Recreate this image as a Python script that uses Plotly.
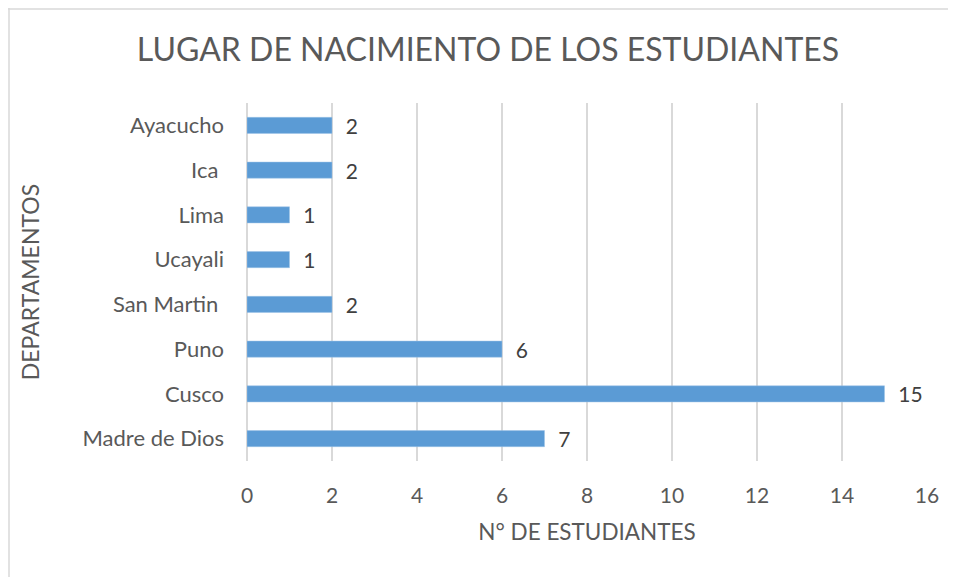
import plotly.graph_objects as go

categories = ["Madre de Dios", "Cusco", "Puno", "San Martin ", "Ucayali", "Lima", "Ica ", "Ayacucho"]
values = [7, 15, 6, 2, 1, 1, 2, 2]
x_ticks = [0, 2, 4, 6, 8, 10, 12, 14, 16]

FONT = "Lato"
TXT = "#595959"

fig = go.Figure(go.Bar(
    y=categories, x=values, orientation="h",
    marker=dict(color="#5b9bd5", line=dict(color="#9dc3e6", width=0.5)),
    width=0.36,
    text=["  " + str(v) for v in values], textposition="outside",
    textfont=dict(family=FONT, size=21, color="#404040"),
    constraintext="none",
    cliponaxis=False,
))

W, H = 956, 577
OFF = 8  # page body margin offset
ml, mr, mt, mb = 247 - OFF, 956 - 927 + OFF, 103 - OFF, 577 - 461 + OFF
pw, ph = W - ml - mr, H - mt - mb

def px_x(p):
    return (p - ml) / pw

def px_y(p):
    return (H - mb - p) / ph

fig.update_layout(
    width=W, height=H,
    margin=dict(l=ml, r=mr, t=mt, b=mb, autoexpand=False),
    paper_bgcolor="white", plot_bgcolor="white",
    showlegend=False,
    font=dict(family=FONT, color=TXT),
    title=dict(text="LUGAR DE NACIMIENTO DE LOS ESTUDIANTES",
               font=dict(family=FONT, size=32, color=TXT),
               x=(488 - OFF) / W, xref="container", xanchor="center", y=1 - (50 - OFF) / H, yanchor="middle"),
    xaxis=dict(range=[0, 16], tickvals=x_ticks, showgrid=True, gridcolor="#d9d9d9", gridwidth=1.5,
               zeroline=True, zerolinecolor="#d9d9d9", zerolinewidth=1.5, showline=False,
               automargin=False,
               tickfont=dict(family=FONT, size=21, color=TXT), ticklabelstandoff=20,
               title=dict(text="N° DE ESTUDIANTES", font=dict(family=FONT, size=22.5, color=TXT), standoff=18)),
    yaxis=dict(showgrid=False, showline=False, zeroline=False, ticks="", automargin=False,
               tickfont=dict(family=FONT, size=22, color=TXT), ticklabelstandoff=22,
               title=dict(text="DEPARTAMENTOS", font=dict(family=FONT, size=23, color=TXT), standoff=36)),
    shapes=[
        dict(type="line", xref="paper", yref="paper", x0=px_x(1), x1=px_x(1), y0=px_y(0), y1=px_y(580),
             line=dict(color="#d9d9d9", width=1.5)),
        dict(type="line", xref="paper", yref="paper", x0=px_x(0), x1=px_x(960), y0=px_y(1), y1=px_y(1),
             line=dict(color="#d9d9d9", width=1.5)),
    ],
)

fig.write_html("out.html")
